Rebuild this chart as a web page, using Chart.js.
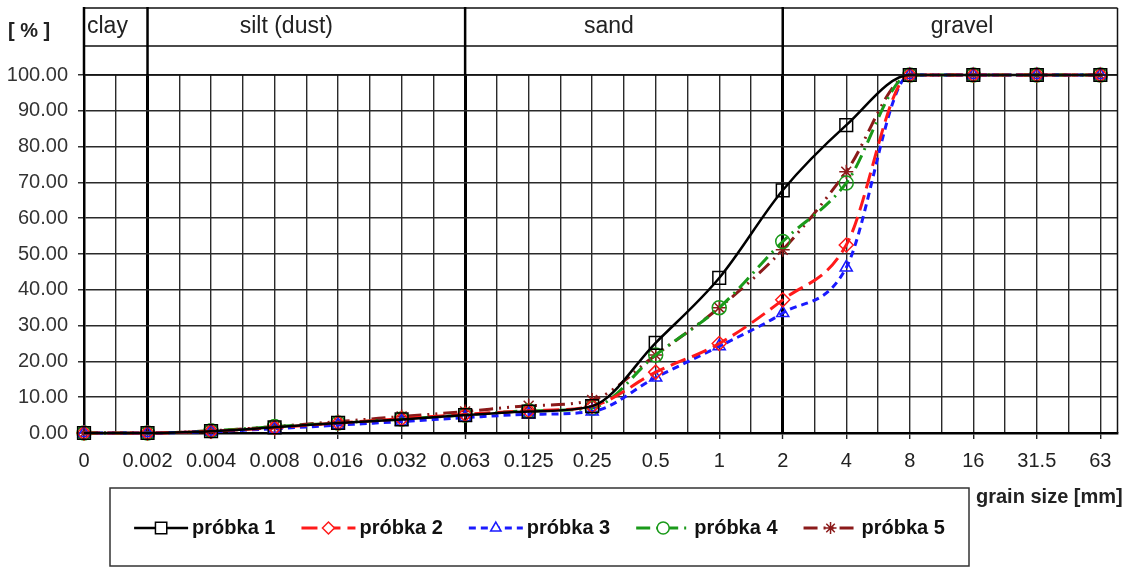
<!DOCTYPE html>
<html>
<head>
<meta charset="utf-8">
<script src="https://cdn.jsdelivr.net/npm/chart.js@4"></script>
<style>
  body { margin: 0; background: #fff; }
</style>
</head>
<body>
<canvas id="sieve" width="1128" height="570"></canvas>
<script>
// sieve sizes [mm] along the x axis
const grainSizes = ['0', '0.002', '0.004', '0.008', '0.016', '0.032', '0.063', '0.125', '0.25', '0.5', '1', '2', '4', '8', '16', '31.5', '63'];

// passing [%] per sample
const probka1 = [0, 0, 0.5, 1.6, 2.8, 3.8, 5.0, 6.0, 7.5, 25.2, 43.3, 67.8, 86.0, 100, 100, 100, 100];
const probka2 = [0, 0, 0.5, 1.5, 2.8, 4.0, 5.2, 6.2, 7.5, 17.0, 25.0, 37.2, 52.5, 100, 100, 100, 100];
const probka3 = [0, 0, 0.4, 1.2, 2.2, 3.2, 4.3, 5.2, 6.0, 15.5, 24.2, 33.5, 46.2, 100, 100, 100, 100];
const probka4 = [0, 0, 0.6, 1.8, 2.8, 3.9, 5.0, 6.2, 7.0, 21.8, 35.0, 53.5, 69.8, 100, 100, 100, 100];
const probka5 = [0, 0, 0.6, 1.8, 3.2, 4.6, 6.0, 7.6, 9.2, 21.8, 35.0, 51.2, 73.0, 100, 100, 100, 100];

const seriesNames = ['próbka 1', 'próbka 2', 'próbka 3', 'próbka 4', 'próbka 5'];

// soil fractions, bounds given as index into grainSizes
const fractionNames = ['clay', 'silt (dust)', 'sand', 'gravel'];
const fractionBounds = [0, 1, 6, 11, 16];

const yTicks = [0, 10, 20, 30, 40, 50, 60, 70, 80, 90, 100];

const FONT = "'Liberation Sans', Arial, sans-serif";
Chart.defaults.font.family = FONT;
Chart.defaults.color = '#333';

const toPoints = arr => arr.map((v, i) => ({ x: i, y: v }));

const styles = [
  { color: '#000000', dash: [], point: 'rect', r: 9, width: 2.5 },
  { color: '#ff1a1a', dash: [16, 7], point: 'rectRot', r: 7, width: 3 },
  { color: '#1a1aff', dash: [7, 5], point: 'triangle', r: 7, width: 3 },
  { color: '#1a9a1a', dash: [14, 6, 2, 6], point: 'circle', r: 7, width: 3 },
  { color: '#8b1a1a', dash: [14, 6, 2, 6, 2, 6], point: 'star', r: 7, width: 3 }
];

const series = [probka1, probka2, probka3, probka4, probka5];

const datasets = series.map((s, i) => ({
  label: seriesNames[i],
  data: toPoints(s),
  borderColor: styles[i].color,
  borderWidth: styles[i].width,
  borderDash: styles[i].dash,
  pointStyle: styles[i].point,
  pointRadius: styles[i].r,
  pointBorderWidth: 1.5,
  pointBorderColor: styles[i].color,
  pointBackgroundColor: 'rgba(0,0,0,0)',
  cubicInterpolationMode: 'monotone',
  fill: false,
  clip: 12
}));

// header with fraction names above the plot + axis captions
const nameShift = [0, -20, -15, 12];
const fractionHeader = {
  id: 'fractionHeader',
  afterDraw(chart) {
    const { ctx, chartArea: a } = chart;
    const x = chart.scales.x;
    const top = 8, mid = 46;
    ctx.save();
    ctx.strokeStyle = '#111';
    ctx.lineWidth = 1.5;
    ctx.beginPath();
    ctx.moveTo(a.left, top); ctx.lineTo(a.right, top);
    ctx.moveTo(a.left, mid); ctx.lineTo(a.right, mid);
    ctx.moveTo(a.left, a.top); ctx.lineTo(a.right, a.top);
    ctx.moveTo(a.right, top); ctx.lineTo(a.right, a.bottom);
    ctx.stroke();

    ctx.lineWidth = 2.5;
    ctx.strokeStyle = '#000';
    ctx.beginPath();
    fractionBounds.slice(0, 4).forEach(b => {
      const px = x.getPixelForValue(b);
      ctx.moveTo(px, top - 1);
      ctx.lineTo(px, a.top);
    });
    ctx.stroke();

    ctx.fillStyle = '#222';
    ctx.font = '23px ' + FONT;
    ctx.textBaseline = 'middle';
    fractionNames.forEach((name, i) => {
      const x0 = x.getPixelForValue(fractionBounds[i]);
      const x1 = i === fractionNames.length - 1 ? a.right : x.getPixelForValue(fractionBounds[i + 1]);
      if (i === 0) {
        ctx.textAlign = 'left';
        ctx.fillText(name, x0 + 3, (top + mid) / 2);
      } else {
        ctx.textAlign = 'center';
        ctx.fillText(name, (x0 + x1) / 2 + nameShift[i], (top + mid) / 2);
      }
    });

    ctx.font = 'bold 20px ' + FONT;
    ctx.fillStyle = '#222';
    ctx.textAlign = 'left';
    ctx.fillText('[ % ]', 8, 31);
    ctx.fillText('grain size [mm]', 976, 497);
    ctx.restore();
  }
};

// boxed legend: line segment with hollow marker, then name
const boxLegend = {
  id: 'boxLegend',
  afterDraw(chart) {
    const { ctx } = chart;
    const box = { left: 110, top: 488, right: 969, bottom: 566 };
    ctx.save();
    ctx.strokeStyle = '#333';
    ctx.lineWidth = 1.5;
    ctx.strokeRect(box.left, box.top, box.right - box.left, box.bottom - box.top);

    ctx.font = 'bold 20px ' + FONT;
    ctx.textBaseline = 'middle';
    ctx.textAlign = 'left';
    const seg = 54, gap = 4, space = 26;
    const widths = chart.data.datasets.map(d => seg + gap + ctx.measureText(d.label).width);
    const total = widths.reduce((s, w) => s + w, 0) + space * (widths.length - 1);
    let cx = (box.left + box.right) / 2 - total / 2;
    const cy = (box.top + box.bottom) / 2 + 1;
    chart.data.datasets.forEach((d, i) => {
      ctx.strokeStyle = d.borderColor;
      ctx.lineWidth = d.borderWidth;
      ctx.setLineDash(d.borderDash);
      ctx.beginPath();
      ctx.moveTo(cx, cy);
      ctx.lineTo(cx + seg, cy);
      ctx.stroke();
      ctx.setLineDash([]);
      ctx.lineWidth = d.pointBorderWidth;
      ctx.fillStyle = '#fff';
      Chart.helpers.drawPoint(ctx, {
        pointStyle: d.pointStyle, radius: d.pointRadius - 1, rotation: 0, borderWidth: d.pointBorderWidth
      }, cx + seg / 2, cy);
      ctx.fillStyle = '#111';
      ctx.fillText(d.label, cx + seg + gap, cy);
      cx += widths[i] + space;
    });
    ctx.restore();
  }
};

const thickAt = fractionBounds.slice(1, 4);

new Chart(document.getElementById('sieve'), {
  type: 'line',
  data: { datasets },
  options: {
    responsive: false,
    animation: false,
    devicePixelRatio: 1,
    layout: { padding: { top: 75, right: 6, left: 0, bottom: 0 } },
    plugins: { legend: { display: false }, tooltip: { enabled: false } },
    scales: {
      x: {
        type: 'linear',
        min: 0,
        max: 16.27,
        afterBuildTicks: axis => {
          const t = [];
          for (let v = 0; v <= 16; v += 0.5) t.push({ value: v });
          axis.ticks = t;
        },
        afterFit: scale => { scale.height = 137; },
        ticks: {
          autoSkip: false,
          maxRotation: 0,
          padding: 10,
          color: '#222',
          font: { size: 20 },
          callback: v => Number.isInteger(v) ? grainSizes[v] : ''
        },
        grid: {
          color: c => (c.tick && thickAt.includes(c.tick.value)) ? '#000' : '#2a2a2a',
          lineWidth: c => (c.tick && thickAt.includes(c.tick.value)) ? 3 : 1.4,
          tickColor: c => (c.tick && Number.isInteger(c.tick.value)) ? '#222' : 'rgba(0,0,0,0)',
          tickLength: 6,
          tickWidth: 1.4
        },
        border: { display: true, color: '#000', width: 2.5 }
      },
      y: {
        min: 0,
        max: 100,
        afterBuildTicks: axis => { axis.ticks = yTicks.map(v => ({ value: v })); },
        afterFit: scale => { scale.width = 84; },
        ticks: {
          padding: 10,
          color: '#333',
          font: { size: 20 },
          callback: v => v.toFixed(2)
        },
        grid: { color: '#2a2a2a', lineWidth: 1.5, tickLength: 6, tickColor: '#333' },
        border: { display: true, color: '#000', width: 2.5 }
      }
    }
  },
  plugins: [fractionHeader, boxLegend]
});
</script>
</body>
</html>
